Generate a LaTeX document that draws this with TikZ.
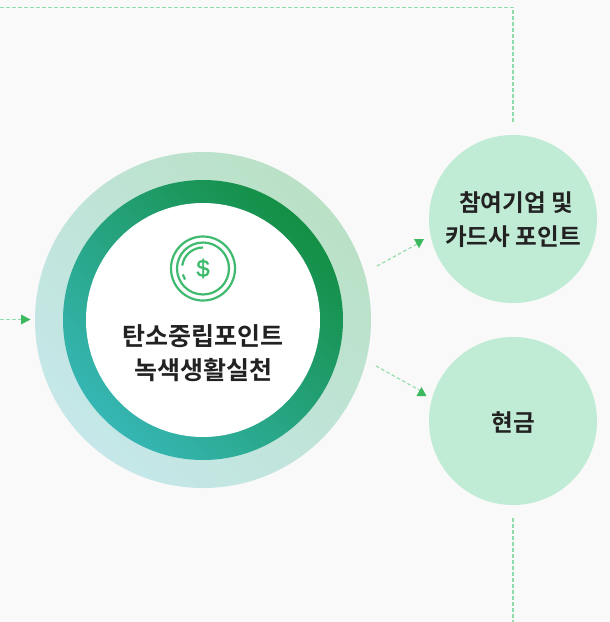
\documentclass[tikz,border=0pt]{standalone}
\usetikzlibrary{calc}
\usepackage{fontspec}
\newfontfamily\krfont{Noto Sans CJK KR}[BoldFont={Noto Sans CJK KR Bold}]
\newfontfamily\dollarfont{Liberation Sans}[FakeBold=1.2]
\definecolor{bgc}{HTML}{F9F9F9}
\definecolor{lightc}{HTML}{C0EBD5}
\definecolor{dashc}{HTML}{8FDCA8}
\definecolor{tipc}{HTML}{3CB95F}
\definecolor{iconc}{HTML}{3FBA6E}
\definecolor{txtc}{HTML}{222222}
\definecolor{outerlo}{HTML}{C5E7E9}
\definecolor{outerhi}{HTML}{BAE1C6}
\definecolor{midlo}{HTML}{36B6B4}
\definecolor{midhi}{HTML}{148F45}
\tikzset{
  x=1pt,y=-1pt,
  link/.style={draw=dashc,line width=1.1pt,dash pattern=on 3.5pt off 2.5pt},
  tipmark/.style={fill=tipc,draw=none},
  icon/.style={draw=iconc,line width=2.2pt},
  bubble/.style={circle,fill=lightc,draw=none,inner sep=0pt,minimum size=168pt},
  bubbletext/.style={align=center,inner sep=0pt,text=txtc,
    font=\krfont\bfseries\fontsize{23.6}{34}\selectfont},
  mainlabel/.style={align=center,inner sep=0pt,text=txtc,
    font=\krfont\bfseries\fontsize{25}{34}\selectfont},
}
\begin{document}
\begin{tikzpicture}
\useasboundingbox (0,0) rectangle (610,622);
\fill[bgc] (0,0) rectangle (610,622);
% rings
\coordinate (hub) at (203,320);
\shade[bottom color=outerlo,top color=outerhi,shading angle=-45] (hub) circle[radius=168pt];
\shade[bottom color=midlo,top color=midhi,shading angle=-45] (hub) circle[radius=140pt];
\node[circle,fill=white,draw=none,inner sep=0pt,minimum size=234pt] (core) at (hub) {};
% icon
\coordinate (coin) at (203,268.5);
\draw[icon] (coin) circle[radius=32pt];
\draw[icon] (coin) circle[radius=26pt];
\draw[icon] ($(coin)+(0,-21)$) arc[start angle=90,end angle=172,radius=21pt];
\draw[icon] ($(coin)+(-20.2,6)$) arc[start angle=197,end angle=212,radius=21pt];
\node[inner sep=0pt,text=iconc,font=\dollarfont\fontsize{24}{24}\selectfont] (dollar) at (203,268.5) {\$};
% labels
\node[mainlabel] (mainlab) at (203,353) {탄소중립포인트\\녹색생활실천};
\node[bubble] (join) at (513,219) {};
\node[bubble] (cash) at (513,421) {};
\node[bubbletext] (joinlab) at (513,220) {\hspace{6pt}참여기업 및\\카드사 포인트};
\node[bubbletext] (cashlab) at (513,423) {현금};
% connector ends
\coordinate (inL) at (0,319.5);
\coordinate (tipL) at (21,319.5);
\coordinate (cTL) at (0,7.3);
\coordinate (cTR) at (513,7.3);
\coordinate (cTE) at (513,122);
\coordinate (cBS) at (513,518);
\coordinate (cBE) at (513,622);
\coordinate (o1) at (377,266);
\coordinate (t1) at (419,243);
\coordinate (o2) at (376,366);
\coordinate (t2) at (421,391);
% connectors
\draw[link] (inL) -- (tipL);
\draw[link] (cTL) -- (cTR) -- (cTE);
\draw[link] (cBS) -- (cBE);
\draw[link] (o1) -- (t1);
\draw[link] (o2) -- (t2);
% arrow heads
\fill[tipmark] (tipL) ++(0,-5) -- ++(9.5,5) -- ++(-9.5,5) -- cycle;
\fill[tipmark] (t1) ++(-5,-4) -- ++(10,0) -- ++(-5,9) -- cycle;
\fill[tipmark] (t2) ++(-4.5,5) -- ++(10,0) -- ++(-5,-9) -- cycle;
\end{tikzpicture}
\end{document}
